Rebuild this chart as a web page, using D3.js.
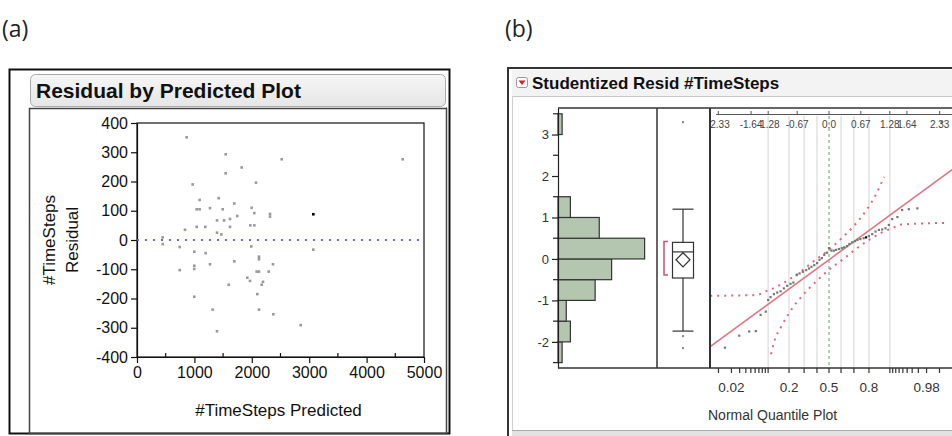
<!DOCTYPE html>
<html>
<head>
<meta charset="utf-8">
<script src="https://cdn.jsdelivr.net/npm/d3@7"></script>
<style>
  body { margin: 0; background: #fff; }
  svg { display: block; font-family: "Liberation Sans", Arial, sans-serif; }
</style>
</head>
<body>
<svg id="chart" width="952" height="436"></svg>
<script>
// ---- panel (a): residual by predicted ----
const predicted = [864, 1545, 2521, 4628, 1824, 1545, 2073, 970, 1091, 1423, 1695, 1040, 1091, 1272, 1493,
  1998, 2044, 2317, 2317, 1746, 3072, 1394, 1516, 1620, 836, 1040, 1190, 1620, 1974, 2044, 1394, 1469,
  448, 448, 744, 998, 1196, 1991, 2125, 2125, 1695, 1272, 2369, 744, 998, 998, 2085, 2125, 2294, 1922,
  1969, 2195, 2172, 1597, 2096, 998, 1317, 2125, 2375, 1394, 3072, 2852];
const residual = [351, 293, 276, 276, 248, 228, 196, 190, 137, 143, 125, 105, 105, 109, 105,
  110, 92, 89, 80, 82, 88, 67, 67, 72, 35, 45, 45, 45, 50, 50, 25, 19,
  9, -14, -24, -40, -45, -22, -57, -66, -73, -83, -83, -103, -88, -99, -108, -108, -108, -129,
  -140, -143, -153, -153, -185, -194, -238, -238, -254, -312, -33, -291];
const highlighted = 20; // the black point
const xTicksA = [0, 1000, 2000, 3000, 4000, 5000];
const xMinorA = [500, 1500, 2500, 3500, 4500];
const yTicksA = [400, 300, 200, 100, 0, -100, -200, -300, -400];

// ---- panel (b): studentized residuals ----
const binLow = [-2.5, -2, -1.5, -1, -0.5, 0, 0.5, 1, 1.5, 2, 2.5, 3];
const binCounts = [1, 3, 2, 9, 13, 21, 10, 3, 0, 0, 0, 1];
const yTicksB = [-2, -1, 0, 1, 2, 3];
const yHalfTicksB = [-2.5, -1.5, -0.5, 0.5, 1.5, 2.5, 3.5];
const boxQuartiles = [-0.46, 0.17, 0.4];
const boxWhiskers = [-1.74, 1.2];
const boxOutliers = [3.3, -1.86, -2.15];
const meanDiamond = [-0.02, 0.17];
const shortestHalf = [-0.39, 0.42];
const qqZ = [-2.19, -1.89, -1.68, -1.54, -1.44, -1.33, -1.28, -1.23, -1.16, -1.09, -1.02, -0.95, -0.88,
  -0.81, -0.75, -0.68, -0.62, -0.55, -0.48, -0.42, -0.37, -0.31, -0.25, -0.2, -0.15, -0.1, -0.04, 0,
  0.05, 0.1, 0.15, 0.21, 0.27, 0.32, 0.38, 0.43, 0.49, 0.55, 0.6, 0.66, 0.73, 0.78, 0.84, 0.91, 0.98,
  1.05, 1.12, 1.19, 1.26, 1.33, 1.44, 1.54, 1.68, 1.86, 2.37];
const qqResid = [-2.14, -1.85, -1.75, -1.74, -1.35, -1.27, -0.99, -0.92, -0.85, -0.81, -0.78, -0.71, -0.65,
  -0.6, -0.57, -0.39, -0.35, -0.31, -0.27, -0.23, -0.19, -0.15, -0.1, -0.02, 0.02, 0.1, 0.15, 0.26,
  0.2, 0.2, 0.22, 0.24, 0.26, 0.28, 0.31, 0.36, 0.4, 0.43, 0.46, 0.48, 0.5, 0.52, 0.55, 0.6, 0.66,
  0.7, 0.71, 0.74, 0.82, 0.96, 1.01, 1.18, 1.2, 1.22, 3.3];
const qqHighlighted = 41;
const upperBandZ = [-2.5, -1.52, -1.35, -1.1, -0.86, -0.6, -0.33, 0, 0.23, 0.51, 0.79, 1.0, 1.16];
const upperBandV = [-0.89, -0.87, -0.79, -0.67, -0.51, -0.31, -0.06, 0.22, 0.46, 0.78, 1.18, 1.58, 1.98];
const lowerBandZ = [-1.22, -1.16, -1.0, -0.79, -0.51, -0.23, 0, 0.33, 0.6, 0.86, 1.1, 1.35, 1.52, 2.5];
const lowerBandV = [-2.3, -2.02, -1.62, -1.22, -0.82, -0.5, -0.26, 0.02, 0.27, 0.47, 0.63, 0.75, 0.83, 0.87];
const fitLineZ = [-2.6, 2.6];
const fitLineV = [-2.2, 2.16];
const gridProbs = [0.1, 0.2, 0.3, 0.4, 0.5, 0.6, 0.7, 0.8, 0.9];
const probLabels = ["0.02", "0.2", "0.5", "0.8", "0.98"];
const probTicks = [0.01, 0.02, 0.03, 0.04, 0.05, 0.06, 0.07, 0.08, 0.09, 0.1, 0.2, 0.3, 0.4, 0.5,
  0.6, 0.7, 0.8, 0.9, 0.91, 0.92, 0.93, 0.94, 0.95, 0.96, 0.97, 0.98, 0.99];
const quantileLabels = ["-2.33", "-1.64", "-1.28", "-0.67", "0.0", "0.67", "1.28", "1.64", "2.33"];

const FONT = "'Liberation Sans', Arial, sans-serif";

// inverse normal cdf (Acklam), for the probability axis
function probit(p) {
  const a = [-39.69683028665376, 220.9460984245205, -275.9285104469687, 138.357751867269, -30.66479806614716, 2.506628277459239];
  const b = [-54.47609879822406, 161.5858368580409, -155.6989798598866, 66.80131188771972, -13.28068155288572];
  const c = [-0.007784894002430293, -0.3223964580411365, -2.400758276141423, -2.549732539343734, 4.374664141464968, 2.938163982698783];
  const d = [0.007784695709041462, 0.3224671290700398, 2.445134137142996, 3.754408661907416];
  const tail = q => (((((c[0] * q + c[1]) * q + c[2]) * q + c[3]) * q + c[4]) * q + c[5]) /
    ((((d[0] * q + d[1]) * q + d[2]) * q + d[3]) * q + 1);
  if (p < 0.02425) return tail(Math.sqrt(-2 * Math.log(p)));
  if (p > 1 - 0.02425) return -tail(Math.sqrt(-2 * Math.log(1 - p)));
  const q = p - 0.5;
  const r = q * q;
  return (((((a[0] * r + a[1]) * r + a[2]) * r + a[3]) * r + a[4]) * r + a[5]) * q /
    (((((b[0] * r + b[1]) * r + b[2]) * r + b[3]) * r + b[4]) * r + 1);
}

const svg = d3.select("#chart");

// panel labels
svg.selectAll(".panel-label")
  .data([["(a)", 2], ["(b)", 505]])
  .enter()
  .append("text")
  .attr("class", "panel-label")
  .attr("x", d => d[1])
  .attr("y", 37)
  .style("font-family", "'Open Sans', sans-serif")
  .style("font-size", "23px")
  .attr("fill", "#222")
  .text(d => d[0]);

// ================= panel (a) =================
const a = svg.append("g");

a.append("rect").attr("x", 9.5).attr("y", 69.5).attr("width", 440).attr("height", 364)
  .attr("fill", "#fff").attr("stroke", "#111").attr("stroke-width", 2);
a.append("line").attr("x1", 446.5).attr("x2", 446.5).attr("y1", 107).attr("y2", 433)
  .attr("stroke", "#999");

const grad = svg.append("defs").append("linearGradient")
  .attr("id", "titleGrad").attr("x1", 0).attr("x2", 0).attr("y1", 0).attr("y2", 1);
grad.append("stop").attr("offset", 0).attr("stop-color", "#f6f6f6");
grad.append("stop").attr("offset", 1).attr("stop-color", "#e6e6e6");

a.append("rect").attr("x", 30.5).attr("y", 74.5).attr("width", 415).attr("height", 32).attr("rx", 5)
  .attr("fill", "url(#titleGrad)").attr("stroke", "#aaa");
a.append("text").attr("x", 36).attr("y", 98)
  .style("font-family", FONT).style("font-size", "21px").style("font-weight", "bold").attr("fill", "#111")
  .text("Residual by Predicted Plot");
a.append("rect").attr("x", 29.5).attr("y", 108.5).attr("width", 417).attr("height", 325)
  .attr("fill", "none").attr("stroke", "#444").attr("stroke-width", 1.5);

const xA = d3.scaleLinear().domain([0, 5000]).range([137, 424]);
const yA = d3.scaleLinear().domain([-400, 400]).range([357, 123]);

a.append("rect").attr("x", xA(0)).attr("y", yA(400)).attr("width", xA(5000) - xA(0))
  .attr("height", yA(-400) - yA(400)).attr("fill", "none").attr("stroke", "#111").attr("stroke-width", 1.2);

const plain = d => String(d);
const axisLeftA = a.append("g").attr("transform", `translate(${xA(0)},0)`)
  .call(d3.axisLeft(yA).tickValues(yTicksA).tickFormat(plain).tickSize(6).tickPadding(3).tickSizeOuter(0));
const axisBottomA = a.append("g").attr("transform", `translate(0,${yA(-400)})`)
  .call(d3.axisBottom(xA).tickValues(xTicksA).tickFormat(plain).tickSize(6).tickPadding(4).tickSizeOuter(0));
[axisLeftA, axisBottomA].forEach(g => {
  g.attr("font-family", FONT);
  g.selectAll("text").style("font-family", FONT).style("font-size", "16px").attr("fill", "#111");
  g.selectAll("line, path").attr("stroke", "#111").attr("stroke-width", 1.2);
});

a.selectAll(".minor-a")
  .data(xMinorA)
  .enter()
  .append("line")
  .attr("x1", d => xA(d)).attr("x2", d => xA(d))
  .attr("y1", yA(-400)).attr("y2", yA(-400) - 4)
  .attr("stroke", "#111").attr("stroke-width", 1.2);

a.append("line").attr("x1", xA(0)).attr("x2", xA(5000)).attr("y1", yA(0)).attr("y2", yA(0))
  .attr("stroke", "#6262d8").attr("stroke-width", 2).attr("stroke-dasharray", "2,6");

a.selectAll(".pt")
  .data(predicted.map((p, i) => ({ p, r: residual[i], i })))
  .enter()
  .append("rect")
  .attr("x", d => xA(d.p) - 1.3)
  .attr("y", d => yA(d.r) - 1.3)
  .attr("width", 2.6).attr("height", 2.6)
  .attr("fill", d => d.i === highlighted ? "#000" : "#9a9a9a");

a.append("text").attr("x", xA(2500) - 2).attr("y", 416).attr("text-anchor", "middle")
  .style("font-family", FONT).style("font-size", "17px").attr("fill", "#111").text("#TimeSteps Predicted");
a.append("text").attr("transform", `translate(55,${yA(0)}) rotate(-90)`).attr("text-anchor", "middle")
  .style("font-family", FONT).style("font-size", "17px").attr("fill", "#111").text("#TimeSteps");
a.append("text").attr("transform", `translate(78,${yA(0)}) rotate(-90)`).attr("text-anchor", "middle")
  .style("font-family", FONT).style("font-size", "17px").attr("fill", "#111").text("Residual");

// ================= panel (b) =================
const b = svg.append("g");

b.append("rect").attr("x", 508).attr("y", 68).attr("width", 450).attr("height", 370)
  .attr("fill", "#fff").attr("stroke", "#333").attr("stroke-width", 2);
b.append("rect").attr("x", 512).attr("y", 70).attr("width", 440).attr("height", 26)
  .attr("fill", "#f3f3f3");
b.append("line").attr("x1", 512).attr("x2", 952).attr("y1", 96.5).attr("y2", 96.5).attr("stroke", "#c8c8c8");
b.append("line").attr("x1", 512.5).attr("x2", 512.5).attr("y1", 96).attr("y2", 431).attr("stroke", "#cfcfcf");
b.append("rect").attr("x", 512).attr("y", 430).attr("width", 440).attr("height", 6).attr("fill", "#e2e2e2");
b.append("line").attr("x1", 512).attr("x2", 952).attr("y1", 430.5).attr("y2", 430.5).attr("stroke", "#aaa");

b.append("rect").attr("x", 516.5).attr("y", 77.5).attr("width", 11).attr("height", 10).attr("rx", 2)
  .attr("fill", "#fff").attr("stroke", "#999");
b.append("path").attr("d", "M518.5,80.5 L525.5,80.5 L522,85 Z").attr("fill", "#d42020");
b.append("text").attr("x", 532).attr("y", 89)
  .style("font-family", FONT).style("font-size", "17px").style("font-weight", "bold").attr("fill", "#111")
  .text("Studentized Resid #TimeSteps");

const yB = d3.scaleLinear().domain([-2.63, 3.64]).range([368, 108]);
const histX = d3.scaleLinear().domain([0, 24]).range([558, 657]);
const qqX = d3.scaleLinear().domain([-2.505, 2.505]).range([710, 948]);
const probX = p => qqX(probit(p));

// histogram
b.selectAll(".bar")
  .data(binLow.map((lo, i) => ({ lo, n: binCounts[i] })).filter(d => d.n > 0))
  .enter()
  .append("rect")
  .attr("x", histX(0))
  .attr("y", d => yB(d.lo + 0.5))
  .attr("width", d => histX(d.n) - histX(0))
  .attr("height", d => yB(d.lo) - yB(d.lo + 0.5))
  .attr("fill", "#b4c6b0").attr("stroke", "#333").attr("stroke-width", 1.2);

const axisB = b.append("g").attr("transform", `translate(${histX(0)},0)`)
  .call(d3.axisLeft(yB).tickValues(yTicksB).tickFormat(plain).tickSize(6).tickPadding(3).tickSizeOuter(0));
axisB.attr("font-family", FONT);
axisB.selectAll("text").style("font-family", FONT).style("font-size", "13px").attr("fill", "#333");
axisB.selectAll("line, path").attr("stroke", "#222").attr("stroke-width", 1.2);
b.selectAll(".half-tick")
  .data(yHalfTicksB)
  .enter()
  .append("line")
  .attr("x1", histX(0) - 5).attr("x2", histX(0))
  .attr("y1", d => yB(d)).attr("y2", d => yB(d))
  .attr("stroke", "#222").attr("stroke-width", 1.2);

// box plot
const bx = 683;
const bw = 10.5;
b.append("line").attr("x1", bx).attr("x2", bx).attr("y1", yB(boxWhiskers[0])).attr("y2", yB(boxWhiskers[1]))
  .attr("stroke", "#333").attr("stroke-width", 1.2);
b.selectAll(".cap")
  .data(boxWhiskers)
  .enter()
  .append("line")
  .attr("x1", bx - bw).attr("x2", bx + bw)
  .attr("y1", d => yB(d)).attr("y2", d => yB(d))
  .attr("stroke", "#333").attr("stroke-width", 1.2);
b.append("rect").attr("x", bx - bw).attr("y", yB(boxQuartiles[2])).attr("width", 2 * bw)
  .attr("height", yB(boxQuartiles[0]) - yB(boxQuartiles[2]))
  .attr("fill", "#fff").attr("stroke", "#333").attr("stroke-width", 1.2);
b.append("line").attr("x1", bx - bw).attr("x2", bx + bw)
  .attr("y1", yB(boxQuartiles[1])).attr("y2", yB(boxQuartiles[1]))
  .attr("stroke", "#333").attr("stroke-width", 1.2);
const dm = yB(meanDiamond[0]);
const dh = yB(meanDiamond[0] - meanDiamond[1]) - dm;
b.append("path")
  .attr("d", `M${bx},${dm - dh} L${bx + 7},${dm} L${bx},${dm + dh} L${bx - 7},${dm} Z`)
  .attr("fill", "none").attr("stroke", "#333").attr("stroke-width", 1.2);
b.append("path")
  .attr("d", `M668,${yB(shortestHalf[1])} H664 V${yB(shortestHalf[0])} H668`)
  .attr("fill", "none").attr("stroke", "#d0506a").attr("stroke-width", 1.5);
b.selectAll(".outlier")
  .data(boxOutliers)
  .enter()
  .append("rect")
  .attr("x", bx - 1).attr("y", d => yB(d) - 1).attr("width", 2).attr("height", 2)
  .attr("fill", "#888");

// quantile plot
b.append("clipPath").attr("id", "qqClip").append("rect")
  .attr("x", 710).attr("y", 108).attr("width", 242).attr("height", 260);
const qq = b.append("g").attr("clip-path", "url(#qqClip)");

qq.selectAll(".grid")
  .data(gridProbs)
  .enter()
  .append("line")
  .attr("x1", d => probX(d)).attr("x2", d => probX(d))
  .attr("y1", 116).attr("y2", 368)
  .attr("stroke", d => d === 0.5 ? "#5aaa5a" : "#d4d4d4")
  .attr("stroke-dasharray", d => d === 0.5 ? "3,3" : null)
  .attr("stroke-width", 1);

const line = d3.line().x(d => qqX(d[0])).y(d => yB(d[1]));
qq.append("path").datum(fitLineZ.map((z, i) => [z, fitLineV[i]]))
  .attr("d", line).attr("fill", "none").attr("stroke", "#e27684").attr("stroke-width", 1.6);

const bandLine = d3.line().curve(d3.curveMonotoneX).x(d => qqX(d[0])).y(d => yB(d[1]));
[[upperBandZ, upperBandV], [lowerBandZ, lowerBandV]].forEach(([zs, vs]) => {
  qq.append("path").datum(zs.map((z, i) => [z, vs[i]]))
    .attr("d", bandLine).attr("fill", "none")
    .attr("stroke", "#e0687c").attr("stroke-width", 2).attr("stroke-dasharray", "2,5");
});

qq.selectAll(".qpt")
  .data(qqZ.map((z, i) => ({ z, v: qqResid[i], i })))
  .enter()
  .append("rect")
  .attr("x", d => qqX(d.z) - 1.1).attr("y", d => yB(d.v) - 1.1)
  .attr("width", 2.2).attr("height", 2.2)
  .attr("fill", d => d.i === qqHighlighted ? "#000" : "#6f7a6f");

// top quantile axis (labels crowd and are clipped by the plot edge, as in JMP)
qq.append("line").attr("x1", 716).attr("x2", 952).attr("y1", 114.5).attr("y2", 114.5).attr("stroke", "#555");
qq.selectAll(".qtick")
  .data(quantileLabels)
  .enter()
  .append("line")
  .attr("x1", d => qqX(+d)).attr("x2", d => qqX(+d))
  .attr("y1", 111).attr("y2", 115)
  .attr("stroke", "#555");
qq.selectAll(".qlabel")
  .data(quantileLabels)
  .enter()
  .append("text")
  .attr("x", d => qqX(+d)).attr("y", 128)
  .attr("text-anchor", "middle")
  .style("font-family", FONT).style("font-size", "10px").attr("fill", "#444")
  .text(d => d);

// frame lines of panel (b) plot
b.append("line").attr("x1", histX(0)).attr("x2", 952).attr("y1", 108).attr("y2", 108).attr("stroke", "#333").attr("stroke-width", 1.5);
b.append("line").attr("x1", histX(0)).attr("x2", 952).attr("y1", 368).attr("y2", 368).attr("stroke", "#333").attr("stroke-width", 1.5);
[657, 710].forEach(x => {
  b.append("line").attr("x1", x).attr("x2", x).attr("y1", 108).attr("y2", 368)
    .attr("stroke", "#333").attr("stroke-width", x === 710 ? 2 : 1.5);
});

// bottom probability axis
b.selectAll(".ptick")
  .data(probTicks)
  .enter()
  .append("line")
  .attr("x1", d => probX(d)).attr("x2", d => probX(d))
  .attr("y1", 368).attr("y2", 373)
  .attr("stroke", "#333").attr("stroke-width", 1.2);
b.selectAll(".plabel")
  .data(probLabels)
  .enter()
  .append("text")
  .attr("x", d => probX(+d)).attr("y", 392)
  .attr("text-anchor", "middle")
  .style("font-family", FONT).style("font-size", "13.5px").attr("fill", "#333")
  .text(d => d);
b.append("text").attr("x", 708).attr("y", 420)
  .style("font-family", FONT).style("font-size", "14px").attr("fill", "#333").text("Normal Quantile Plot");
</script>
</body>
</html>
